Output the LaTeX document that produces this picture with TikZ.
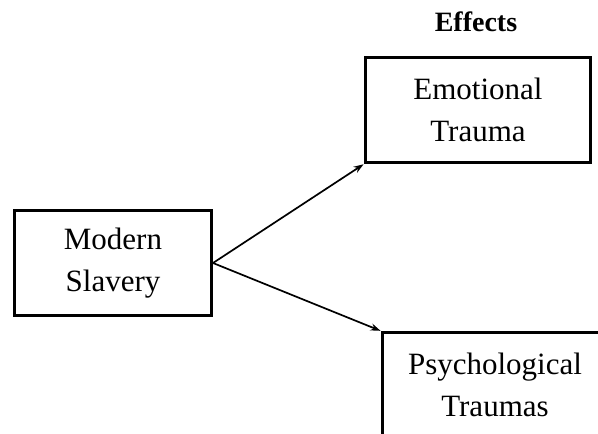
\documentclass[tikz,border=0pt]{standalone}
\usepackage{fontspec}
\setmainfont{Liberation Serif}
\usetikzlibrary{positioning, arrows.meta, arrows}

\begin{document}
\begin{tikzpicture}[x=1pt,y=-1pt,>={Stealth[length=10pt,width=7pt]},
    box/.style={draw,line width=3pt,minimum height=105pt,inner sep=0pt,align=center,
        font=\fontsize{31}{43}\selectfont},
    link/.style={->,line width=1.7pt,shorten >=0.5pt}]
    \useasboundingbox (0,0) rectangle (598,434);

    \node[font=\fontsize{28}{32}\selectfont\bfseries] (effects) at (476,22) {Effects};
    \node[box,minimum width=197pt] (slavery) at (113,263) {Modern\\[-1pt]Slavery};
    \node[box,minimum width=225pt] (emotional) at (478,110) {Emotional\\[-1pt]Trauma};
    \node[box,minimum width=225pt] (psych) at (495,385) {Psychological\\[-1pt]Traumas};

    \draw[link] (slavery.east) -- (emotional.south west);
    \draw[link] (slavery.east) -- (psych.north west);
\end{tikzpicture}
\end{document}
